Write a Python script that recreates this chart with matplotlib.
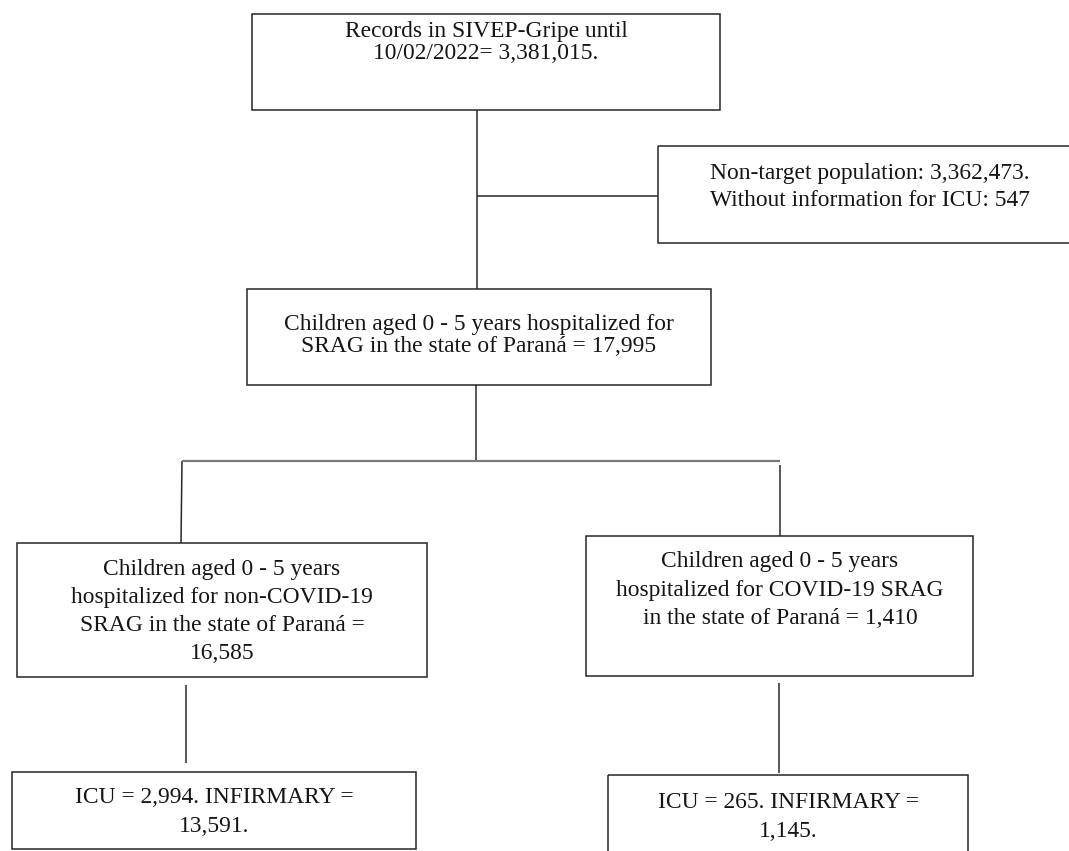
import matplotlib
matplotlib.use("Agg")
import matplotlib.pyplot as plt
from matplotlib.patches import Rectangle

# ---- data (text content of each box) ----
box_records = ["Records in SIVEP-Gripe until", "10/02/2022= 3,381,015."]
box_excluded = ["Non-target population: 3,362,473.", "Without information for ICU: 547"]
box_children = ["Children aged 0 - 5 years hospitalized for", "SRAG in the state of Paraná = 17,995"]
box_noncovid = ["Children aged 0 - 5 years", "hospitalized for non-COVID-19",
                "SRAG in the state of Paraná =", "16,585"]
box_covid = ["Children aged 0 - 5 years", "hospitalized for COVID-19 SRAG",
             "in the state of Paraná = 1,410"]
box_noncovid_icu = ["ICU = 2,994. INFIRMARY =", "13,591."]
box_covid_icu = ["ICU = 265. INFIRMARY =", "1,145."]

# ---- layout (pixel coords: left, top, right, bottom ; text centre x ; baseline y of each line) ----
boxes = [
    (box_records,      (252, 14, 720, 110),   486, [37, 59]),
    (box_excluded,     (658, 146, 1085, 243), 870, [179, 206]),
    (box_children,     (247, 289, 711, 385),  479, [330, 352]),
    (box_noncovid,     (17, 543, 427, 677),   222, [575, 603, 631, 659]),
    (box_covid,        (586, 536, 973, 676),  780, [567, 596, 624]),
    (box_noncovid_icu, (12, 772, 416, 849),   214, [803, 832]),
    (box_covid_icu,    (608, 775, 968, 853),  788, [808, 837]),
]

connectors = [
    ((477, 110), (477, 289)),
    ((477, 196), (658, 196)),
    ((476, 385), (476, 461)),
    ((182, 461), (181, 543)),
    ((780, 465), (780, 536)),
    ((186, 685), (186, 763)),
    ((779, 683), (779, 773)),
]
branch = ((182, 461), (780, 461))

W, H = 1069, 851
fig = plt.figure(figsize=(W / 100, H / 100), dpi=100)
ax = fig.add_axes([0, 0, 1, 1])
ax.set_xlim(0, W)
ax.set_ylim(H, 0)
ax.axis("off")

font = dict(family=["Liberation Serif", "DejaVu Serif"], fontsize=16.9, color="#151515")

for lines, (l, t, r, b), cx, ys in boxes:
    ax.add_patch(Rectangle((l, t), r - l, b - t, fill=False, edgecolor="#262626",
                           linewidth=1.1, clip_on=True))
    for txt, y in zip(lines, ys):
        ax.text(cx, y, txt, ha="center", va="baseline", **font)

for (x0, y0), (x1, y1) in connectors:
    ax.plot([x0, x1], [y0, y1], color="#2a2a2a", linewidth=1.1, solid_capstyle="butt")

(bx0, by0), (bx1, by1) = branch
ax.plot([bx0, bx1], [by0, by1], color="#7a7a7a", linewidth=1.6, solid_capstyle="butt")

fig.savefig("out.png", dpi=100, facecolor="white")
